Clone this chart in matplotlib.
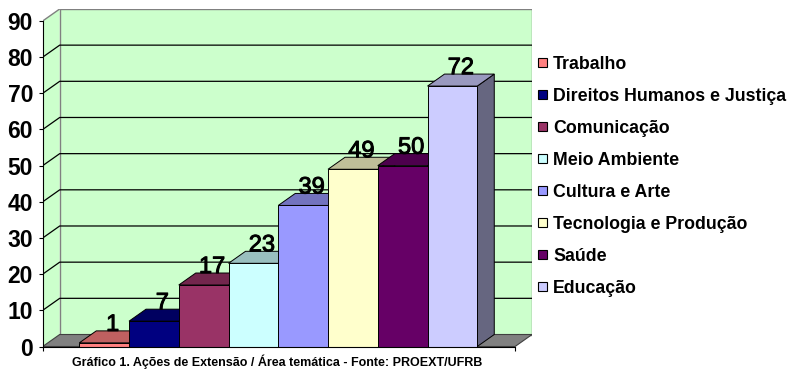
import matplotlib
matplotlib.use("Agg")
from matplotlib import pyplot as plt
from matplotlib.patches import Polygon, Rectangle
import matplotlib.colors as mcolors
import matplotlib.patheffects as pe
import numpy as np

CATEGORIES = [
    "Trabalho",
    "Direitos Humanos e Justiça",
    "Comunicação",
    "Meio Ambiente",
    "Cultura e Arte",
    "Tecnologia e Produção",
    "Saúde",
    "Educação",
]
VALUES = [1, 7, 17, 23, 39, 49, 50, 72]
COLORS = ["#FF8080", "#000080", "#993366", "#CCFFFF",
          "#9999FF", "#FFFFCC", "#660066", "#CCCCFF"]
Y_TICKS = [0, 10, 20, 30, 40, 50, 60, 70, 80, 90]
CAPTION = "Gráfico 1. Ações de Extensão / Área temática - Fonte: PROEXT/UFRB"

plt.rcParams["font.family"] = ["Liberation Sans", "DejaVu Sans"]

W, H = 787, 377
fig = plt.figure(figsize=(W / 100, H / 100), dpi=100)

# pixel scale of the front plane
PX_X = 49.75   # px per bar
PX_Y = 3.617   # px per value unit
XL, XR = -0.735, 8.76          # front floor edges, in bar units
DX, DY = 17 / PX_X, 12 / PX_Y  # depth offset of the back plane
YMAX = Y_TICKS[-1]

ax = fig.add_axes([42.7 / W, (H - 346.5) / H,
                   (XR + DX - XL) * PX_X / W, (YMAX + DY) * PX_Y / H])
ax.set_xlim(XL, XR + DX)
ax.set_ylim(0, YMAX + DY)
ax.patch.set_visible(False)

green = "#CCFFCC"
grey = "#808080"

# walls
ax.add_patch(Polygon([(XL, 0), (XL + DX, DY), (XL + DX, YMAX + DY), (XL, YMAX)],
                     closed=True, facecolor=green, edgecolor="none", zorder=0))
ax.add_patch(Rectangle((XL + DX, DY), XR - XL, YMAX,
                       facecolor=green, edgecolor=grey, lw=1, zorder=0.5))
ax.plot([XL, XL + DX], [YMAX, YMAX + DY], color=grey, lw=1, zorder=0.6)

# gridlines on side and back wall
for v in Y_TICKS[1:-1]:
    ax.plot([XL, XL + DX, XR + DX], [v, v + DY, v + DY], color="black", lw=0.9, zorder=1)

# floor
ax.add_patch(Polygon([(XL, 0), (XR, 0), (XR + DX, DY), (XL + DX, DY)],
                     closed=True, facecolor=grey, edgecolor="#404040", lw=0.8, zorder=1.5))

# bars, left to right so each front covers the previous side
for i, (v, c) in enumerate(zip(VALUES, COLORS)):
    base = np.array(mcolors.to_rgb(c))
    z = 2 + i * 0.1
    ax.add_patch(Polygon([(i + 1, 0), (i + 1 + DX, DY), (i + 1 + DX, v + DY), (i + 1, v)],
                         closed=True, facecolor=base * 0.5, edgecolor="black", lw=0.7, zorder=z))
    ax.add_patch(Polygon([(i, v), (i + 1, v), (i + 1 + DX, v + DY), (i + DX, v + DY)],
                         closed=True, facecolor=base * 0.75, edgecolor="black", lw=0.7, zorder=z))
    ax.add_patch(Rectangle((i, 0), 1, v, facecolor=c, edgecolor="black", lw=0.7, zorder=z + 0.01))
    ax.text(i + 0.5 + DX / 2, v + DY, str(v), ha="center", va="baseline",
            fontsize=17, zorder=10,
            path_effects=[pe.withStroke(linewidth=0.7, foreground="black")])

# axes
for s in ["top", "right"]:
    ax.spines[s].set_visible(False)
ax.spines["left"].set_bounds(0, YMAX)
ax.spines["bottom"].set_bounds(XL, XR)
ax.spines["left"].set_zorder(5)
ax.spines["bottom"].set_zorder(5)
ax.spines["left"].set_linewidth(0.8)
ax.spines["bottom"].set_linewidth(0.8)
ax.set_yticks(Y_TICKS)
ax.set_yticklabels([str(t) for t in Y_TICKS], fontsize=16.5, fontweight="bold")
ax.set_xticks([XL, XR])
ax.set_xticklabels(["", ""])
ax.tick_params(axis="y", length=2.6, width=0.8, pad=4.3)
ax.tick_params(axis="x", length=2.9, width=0.8)

# legend
for i, (name, c) in enumerate(zip(CATEGORIES, COLORS)):
    yc = 62.3 + i * 32.06
    fig.add_artist(Rectangle((537.5 / W, 1 - (yc + 4.5) / H), 9 / W, 9 / H,
                             transform=fig.transFigure, facecolor=c,
                             edgecolor="black", lw=0.8))
    fig.text(553 / W, 1 - yc / H, name, ha="left", va="center_baseline",
             fontsize=12.8, fontweight="bold")

fig.text(277.5 / W, 1 - 362 / H, CAPTION, ha="center", va="center",
         fontsize=9, fontweight="bold")

fig.savefig("out.png", dpi=100)
